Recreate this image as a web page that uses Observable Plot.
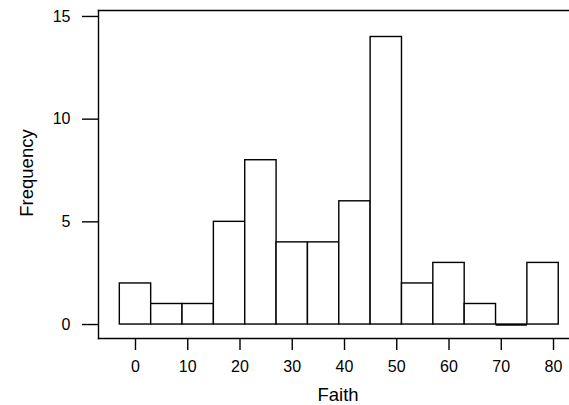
<!DOCTYPE html>
<html>
<head>
<meta charset="utf-8">
<script src="https://cdn.jsdelivr.net/npm/d3@7"></script>
<script src="https://cdn.jsdelivr.net/npm/@observablehq/plot@0.6"></script>
<style>
  html, body { margin: 0; padding: 0; background: #fff; }
  svg { display: block; font-family: "Liberation Sans", Arial, sans-serif; }
</style>
</head>
<body>
<div id="chart"></div>
<script>
// Histogram of Faith: bin edges (width 6) and counts
const binEdges = [-3, 3, 9, 15, 21, 27, 33, 39, 45, 51, 57, 63, 69, 75, 81];
const counts = [2, 1, 1, 5, 8, 4, 4, 6, 14, 2, 3, 1, 0, 3];
const xTicks = [0, 10, 20, 30, 40, 50, 60, 70, 80];
const yTicks = [0, 5, 10, 15];
const xLabel = "Faith";
const yLabel = "Frequency";

const bins = counts.map((c, i) => ({x0: binEdges[i], x1: binEdges[i + 1], count: c}));

const chart = Plot.plot({
  width: 569,
  height: 405,
  marginLeft: 98,
  marginRight: 0,
  marginTop: 10,
  marginBottom: 67,
  style: {fontFamily: '"Liberation Sans", Arial, sans-serif', color: "#000", background: "#fff"},
  x: {domain: [-7.08, 83.06]},
  y: {domain: [-0.68, 15.29]},
  marks: [
    Plot.rectY(bins, {x1: "x0", x2: "x1", y: "count", fill: "white", stroke: "black", strokeWidth: 1.4}),
    Plot.ruleY(bins.filter(d => d.count === 0), {x1: "x0", x2: "x1", y: "count", stroke: "black", strokeWidth: 2.4}),
    Plot.frame({anchor: "left", strokeWidth: 1.4}),
    Plot.frame({anchor: "top", strokeWidth: 1.4}),
    Plot.frame({anchor: "bottom", strokeWidth: 1.4}),
    Plot.axisY({ticks: yTicks, tickSize: 16, tickPadding: 12, fontSize: 16, label: null, strokeWidth: 1.4}),
    Plot.axisX({ticks: xTicks, tickSize: 12, tickPadding: 10, fontSize: 16, label: null, strokeWidth: 1.4}),
    Plot.text([xLabel], {frameAnchor: "bottom", textAnchor: "middle", lineAnchor: "bottom", dx: 4, dy: 62, fontSize: 18.5, fill: "black"}),
    Plot.text([yLabel], {frameAnchor: "left", textAnchor: "middle", lineAnchor: "bottom", rotate: -90, dx: -66, dy: -1.5, fontSize: 18.5, fill: "black"})
  ]
});
document.getElementById("chart").appendChild(chart);
</script>
</body>
</html>
